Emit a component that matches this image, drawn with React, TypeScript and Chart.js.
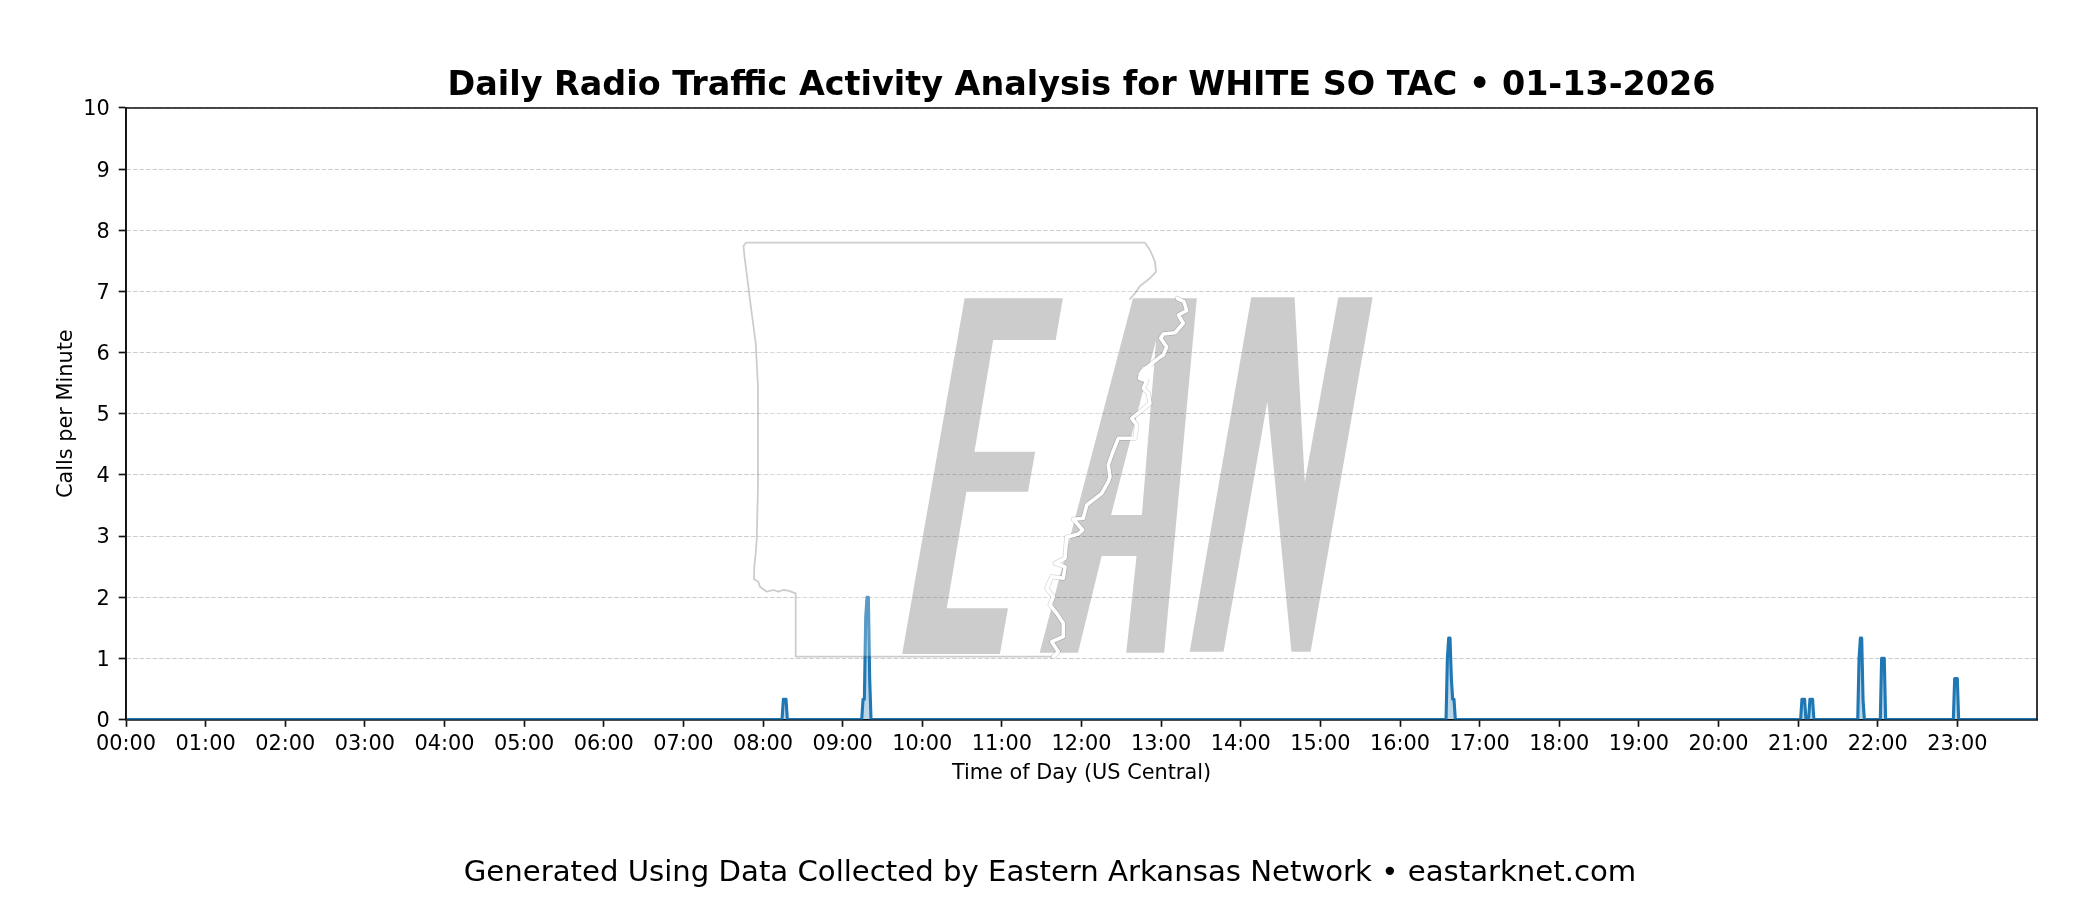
import React, { useEffect, useRef } from "react";
import { Chart, registerables } from "chart.js";

Chart.register(...registerables);

const FONT = "'DejaVu Sans'";
const TITLE = "Daily Radio Traffic Activity Analysis for WHITE SO TAC • 01-13-2026";
const FOOTER = "Generated Using Data Collected by Eastern Arkansas Network • eastarknet.com";
const X_TITLE = "Time of Day (US Central)";
const Y_TITLE = "Calls per Minute";

const hourLabels = [
  "00:00","01:00","02:00","03:00","04:00","05:00","06:00","07:00","08:00","09:00","10:00","11:00",
  "12:00","13:00","14:00","15:00","16:00","17:00","18:00","19:00","20:00","21:00","22:00","23:00",
];

// minute of day and calls per minute; the series is flat zero between the listed minutes
const minutes = [
  0, 494, 495, 496, 497, 498,
  554, 555, 556, 557, 558, 559, 560, 561,
  994, 995, 996, 997, 998, 999, 1000, 1001,
  1261, 1262, 1263, 1264, 1265,
  1267, 1268, 1269, 1270, 1271,
  1304, 1305, 1306, 1307, 1308, 1309,
  1321, 1322, 1323, 1324, 1325,
  1376, 1377, 1378, 1379, 1380,
  1439,
];
const callsPerMinute = [
  0, 0, 0.33, 0.33, 0.33, 0,
  0, 0.33, 0.33, 1.67, 2, 2, 0.67, 0,
  0, 1, 1.33, 1.33, 0.67, 0.33, 0.33, 0,
  0, 0.33, 0.33, 0.33, 0,
  0, 0.33, 0.33, 0.33, 0,
  0, 1, 1.33, 1.33, 0.33, 0,
  0, 1, 1, 1, 0,
  0, 0.67, 0.67, 0.67, 0,
  0,
];

// Watermark artwork outlines (logo image in the reference), traced in crop units
const logoE = [[548,235],[768,235],[752,360],[612,360],[570,695],[706,695],[690,815],[552,815],[508,1165],[645,1165],[627,1302],[408,1302]];
const logoA = [[925,235],[1068,235],[995,1298],[910,1298],[933,1008],[855,1008],[802,1298],[716,1298]];
const logoACounter = [[977,360],[945,885],[876,885]];
const logoN = [[1190,232],[1287,232],[1310,785],[1385,232],[1462,232],[1323,1295],[1280,1295],[1226,545],[1128,1295],[1052,1295]];
const stateOuter = [
  [1130,299],[1135,293.3],[1140,286],[1150,278.3],[1156,271.7],[1155,261.7],[1150,250],[1145,242.7],
  [746,242.7],[743.5,246],[744.5,256.7],[751.3,310],[755.7,343],[758,387],[758,487],[756.7,540],
  [755.7,553.3],[754.3,566.7],[754,579.3],[758.3,581.7],[760,586.7],[766.7,591.7],[773.3,590],
  [778.3,591.7],[783.3,590],[788.3,590.7],[795.7,593.3],[795.7,656.7],[1053.3,656.7],
];
const stateRiver = [
  [1177.3,298.3],[1184,301.7],[1186.7,310.7],[1178.3,315],[1183.3,323.3],[1175,332.7],[1163.3,334],
  [1160.7,338.3],[1166.7,346.7],[1163.3,355],[1158.3,358.3],[1150,365],[1141.7,371.7],[1139.3,378.3],
  [1146.7,380.7],[1143.3,388.3],[1148.3,393.3],[1150,403.3],[1140,411.7],[1131.7,418.3],[1136.7,425],
  [1135,438.3],[1118.3,438.3],[1111.7,455],[1108.3,465],[1110,476.7],[1108.3,481.7],[1101.7,493.3],
  [1086.7,505],[1083.3,518.3],[1073.3,519.3],[1082.7,530],[1078.3,534],[1066.7,537.3],[1065,558.3],
  [1055,563.3],[1065,566.7],[1063.3,578.3],[1051.7,576.7],[1046.7,588.3],[1053.3,596.7],[1050,605],
  [1056.7,613.3],[1063.3,623.3],[1063.3,636.7],[1051.7,641.7],[1058.3,651.7],[1053.3,656.7],
];
const riverLake = [[1150,364],[1154,370],[1149.3,379.3],[1139.3,380],[1138.7,373.3],[1143.3,367.3]];

const cropX = (x: number) => 720 + x / 2.24;
const cropY = (y: number) => 220 + y / 3;

function tracePath(ctx: CanvasRenderingContext2D, pts: number[][], close: boolean) {
  pts.forEach(([x, y], i) => {
    if (i === 0) ctx.moveTo(x, y);
    else ctx.lineTo(x, y);
  });
  if (close) ctx.closePath();
}
const cropped = (pts: number[][]) => pts.map(([x, y]) => [cropX(x), cropY(y)]);

const overlayPlugin = {
  id: "overlay",
  afterDatasetsDraw(chart: any) {
    const ctx: CanvasRenderingContext2D = chart.ctx;
    const a = chart.chartArea;
    ctx.save();
    ctx.lineJoin = "round";
    ctx.lineCap = "round";
    // translucent white body of the state
    ctx.beginPath();
    tracePath(ctx, [...stateOuter, ...[...stateRiver].reverse()], true);
    ctx.fillStyle = "rgba(255,255,255,0.25)";
    ctx.fill();
    // letters
    ctx.beginPath();
    tracePath(ctx, cropped(logoE), true);
    tracePath(ctx, cropped(logoA), true);
    tracePath(ctx, cropped(logoACounter), true);
    tracePath(ctx, cropped(logoN), true);
    ctx.fillStyle = "rgba(0,0,0,0.2)";
    ctx.fill("evenodd");
    // outline
    ctx.beginPath();
    tracePath(ctx, stateOuter, false);
    ctx.strokeStyle = "rgba(0,0,0,0.2)";
    ctx.lineWidth = 1.8;
    ctx.stroke();
    ctx.beginPath();
    tracePath(ctx, stateRiver, false);
    ctx.strokeStyle = "rgba(0,0,0,0.16)";
    ctx.lineWidth = 5;
    ctx.stroke();
    ctx.strokeStyle = "#ffffff";
    ctx.lineWidth = 3.6;
    ctx.stroke();
    ctx.beginPath();
    tracePath(ctx, riverLake, true);
    ctx.fillStyle = "#ffffff";
    ctx.fill();
    ctx.restore();
    // frame: top, left and right sides; the bottom comes from the x axis border
    ctx.save();
    ctx.strokeStyle = "#111";
    ctx.lineWidth = 1.67;
    ctx.beginPath();
    ctx.moveTo(a.left, a.bottom);
    ctx.lineTo(a.left, a.top);
    ctx.lineTo(a.right, a.top);
    ctx.lineTo(a.right, a.bottom);
    ctx.stroke();
    ctx.restore();
  },
};

export default function App() {
  const ref = useRef<HTMLCanvasElement>(null);
  useEffect(() => {
    document.body.style.margin = "0";
    const chart = new Chart(ref.current!, {
      type: "line",
      plugins: [overlayPlugin],
      data: {
        datasets: [
          {
            data: minutes.map((m, i) => ({ x: m, y: callsPerMinute[i] })),
            yAxisID: "y",
            borderColor: "#1f77b4",
            backgroundColor: "rgba(31,119,180,0.3)",
            borderWidth: 3.1,
            borderJoinStyle: "round",
            borderCapStyle: "round",
            pointRadius: 0,
            tension: 0,
            fill: "origin",
            clip: 0,
          },
        ],
      },
      options: {
        responsive: false,
        animation: false,
        layout: { padding: 0 },
        plugins: {
          legend: { display: false },
          tooltip: { enabled: false },
          title: {
            display: true,
            fullSize: false,
            text: TITLE,
            color: "#000",
            font: { family: FONT, size: 33.4, weight: "bold", lineHeight: 1.2 },
            padding: { top: 66.6, bottom: 1.3 },
          },
          subtitle: {
            display: true,
            position: "bottom",
            text: FOOTER,
            color: "#000",
            font: { family: FONT, size: 29.17, weight: "normal", lineHeight: 1.2 },
            padding: { top: 69.7, bottom: 9.3 },
          },
        },
        scales: {
          x: {
            type: "linear",
            min: 0,
            max: 1439,
            afterFit(s: any) { s.height = 66.5; },
            title: {
              display: true,
              text: X_TITLE,
              color: "#000",
              font: { family: FONT, size: 20.83 },
              padding: { top: 0, bottom: 0 },
            },
            grid: { drawOnChartArea: false, drawTicks: true, tickLength: 7.3, tickColor: "#111", tickWidth: 1.67 },
            border: { display: true, color: "#111", width: 1.67 },
            ticks: {
              stepSize: 60,
              includeBounds: false,
              autoSkip: false,
              maxRotation: 0,
              minRotation: 0,
              padding: 5,
              color: "#000",
              font: { family: FONT, size: 20.83 },
              callback: (v: any) => hourLabels[Math.round(v / 60)],
            },
          },
          y: {
            min: 0,
            max: 10,
            afterFit(s: any) { s.width = 126; },
            title: {
              display: true,
              text: Y_TITLE,
              color: "#000",
              font: { family: FONT, size: 20.83 },
              padding: { top: 53.6, bottom: 0 },
            },
            grid: {
              color: "rgba(0,0,0,0.2)",
              lineWidth: 1,
              tickLength: 7.3,
              tickColor: "#111",
              tickWidth: 1.67,
              tickBorderDash: [],
            },
            border: { display: true, color: "#111", width: 1.67, dash: [4.5, 2] },
            ticks: {
              stepSize: 1,
              padding: 9,
              labelOffset: 2,
              color: "#000",
              font: { family: FONT, size: 20.83 },
            },
          },
          rightGap: {
            type: "linear",
            position: "right",
            display: true,
            afterFit(s: any) { s.width = 63; },
            grid: { display: false, drawTicks: false },
            border: { display: false },
            ticks: { display: false },
            title: { display: false },
          },
        },
      },
    } as any);
    return () => chart.destroy();
  }, []);
  return <canvas ref={ref} width={2100} height={900} style={{ display: "block" }} />;
}
